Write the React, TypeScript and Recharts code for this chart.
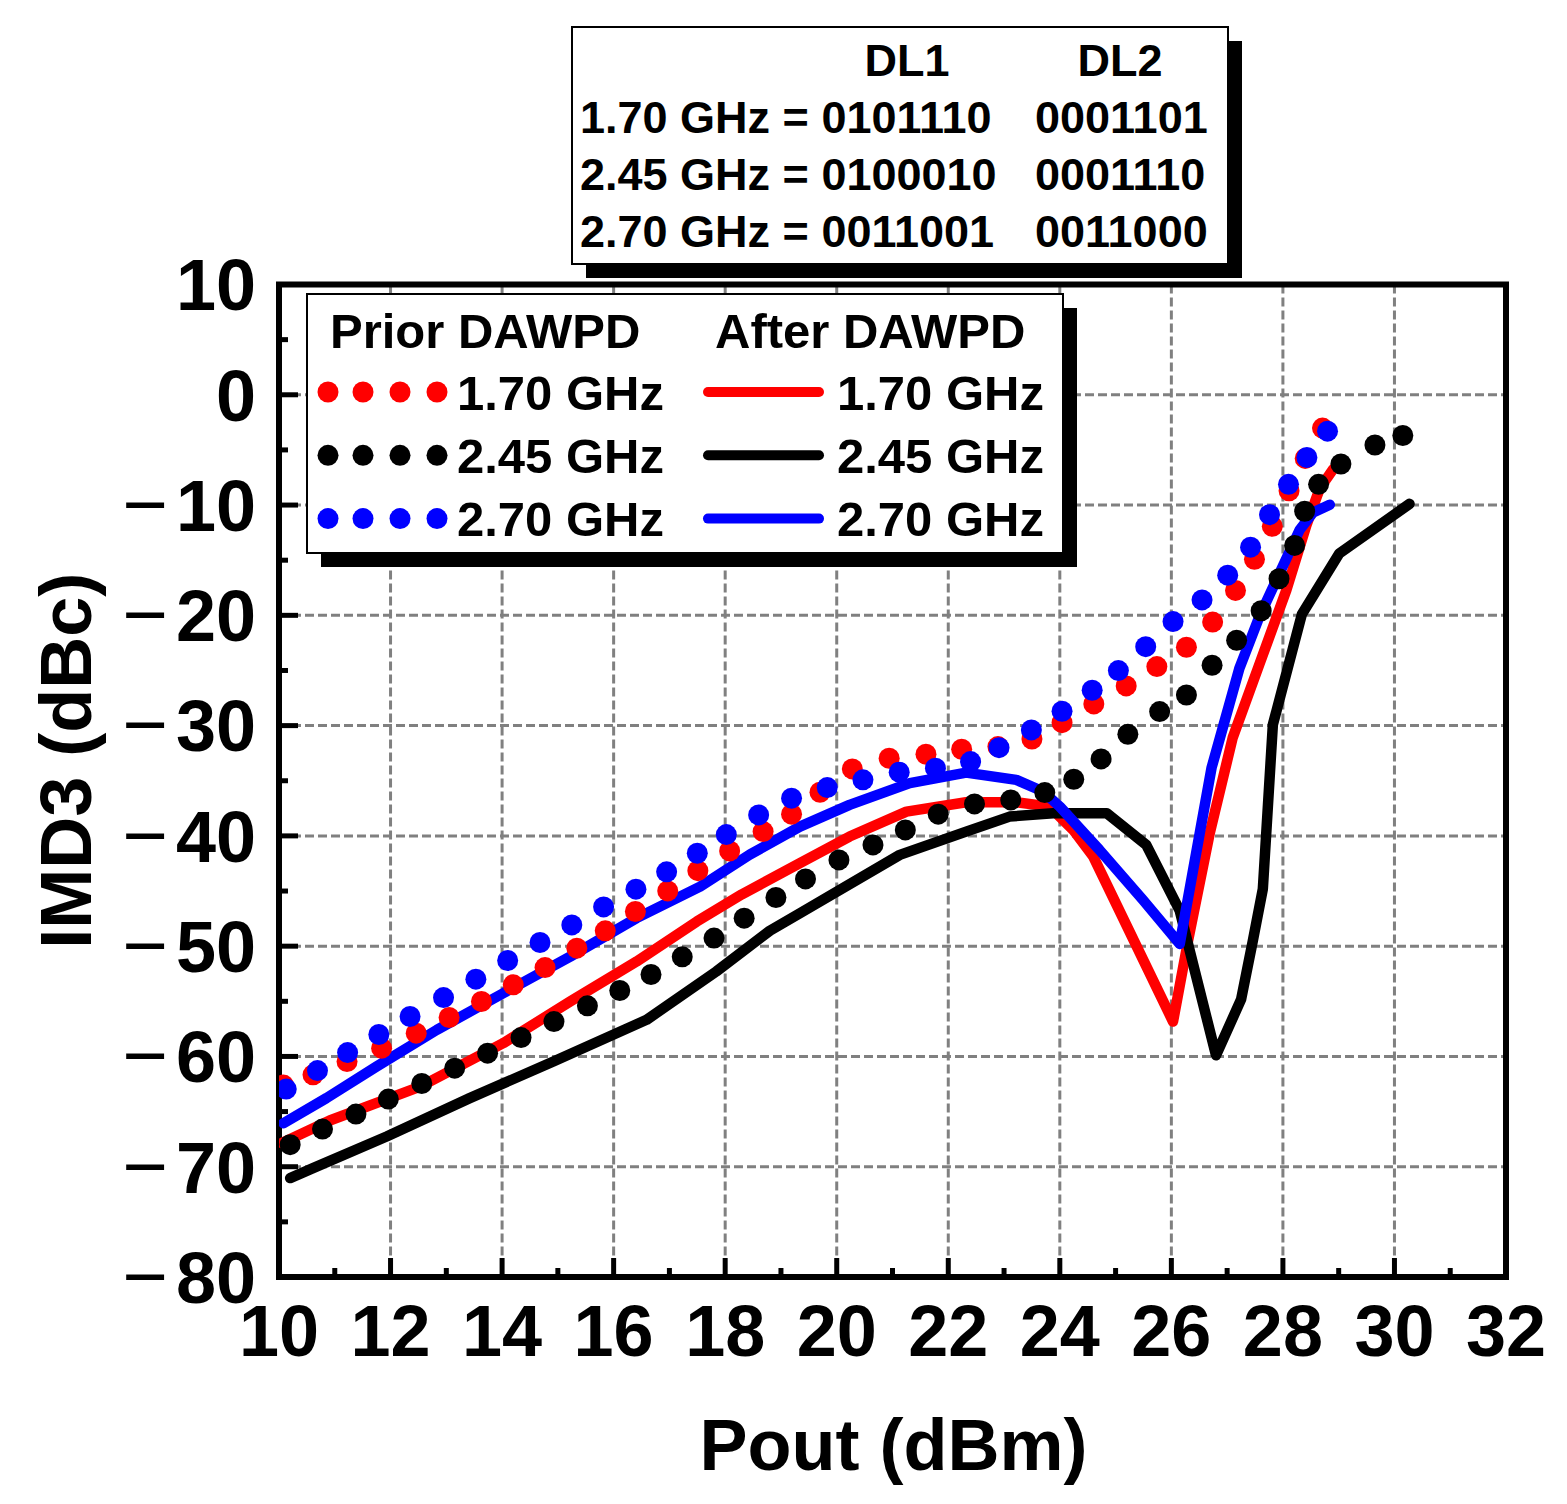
import React from 'react'
import { ComposedChart, Line, Scatter, XAxis, YAxis, CartesianGrid, ReferenceArea, Legend } from 'recharts'

const FONT = '"Liberation Sans", Arial, sans-serif'

// axis ticks (minor ticks carry no label)
const xTicks = [10, 11, 12, 13, 14, 15, 16, 17, 18, 19, 20, 21, 22, 23, 24, 25, 26, 27, 28, 29, 30, 31, 32]
const yTicks = [-80, -75, -70, -65, -60, -55, -50, -45, -40, -35, -30, -25, -20, -15, -10, -5, 0, 5, 10]
const xGridValues = [12, 14, 16, 18, 20, 22, 24, 26, 28, 30]
const yGridValues = [-70, -60, -50, -40, -30, -20, -10, 0]

// Prior DAWPD (measured points) [Pout dBm, IMD3 dBc]
const prior170: [number, number][] = [
  [10.08, -62.6], [10.61, -61.67], [11.22, -60.46], [11.84, -59.25], [12.46, -57.89], [13.05, -56.47],
  [13.63, -55.02], [14.2, -53.51], [14.77, -51.94], [15.34, -50.18], [15.85, -48.61], [16.39, -46.86],
  [16.97, -44.99], [17.51, -43.15], [18.08, -41.36], [18.68, -39.61], [19.19, -38.03], [19.7, -36.04],
  [20.28, -33.93], [20.94, -32.96], [21.6, -32.59], [22.24, -32.14], [22.89, -31.9], [23.5, -31.21],
  [24.04, -29.73], [24.61, -28.03], [25.19, -26.4], [25.74, -24.65], [26.27, -22.89], [26.74, -20.61],
  [27.15, -17.74], [27.49, -14.91], [27.81, -11.93], [28.11, -8.71], [28.4, -5.77], [28.71, -3.02],
]
const prior245: [number, number][] = [
  [10.2, -68.0], [10.78, -66.59], [11.38, -65.23], [11.96, -63.87], [12.56, -62.45], [13.15, -61.06],
  [13.74, -59.7], [14.34, -58.29], [14.93, -56.84], [15.53, -55.41], [16.11, -54.02], [16.67, -52.57],
  [17.23, -50.97], [17.8, -49.27], [18.34, -47.46], [18.91, -45.59], [19.44, -43.9], [20.04, -42.18],
  [20.65, -40.82], [21.23, -39.46], [21.82, -38.03], [22.47, -37.1], [23.12, -36.74], [23.73, -36.07],
  [24.25, -34.86], [24.74, -33.02], [25.22, -30.78], [25.79, -28.73], [26.27, -27.22], [26.73, -24.53],
  [27.17, -22.26], [27.61, -19.58], [27.93, -16.68], [28.21, -13.66], [28.39, -10.56], [28.64, -8.12],
  [29.04, -6.28], [29.65, -4.55], [30.15, -3.69],
]
const prior270: [number, number][] = [
  [10.13, -62.96], [10.69, -61.28], [11.23, -59.65], [11.79, -58.01], [12.35, -56.38], [12.95, -54.66],
  [13.53, -52.99], [14.1, -51.3], [14.68, -49.67], [15.25, -48.07], [15.82, -46.44], [16.4, -44.83],
  [16.95, -43.26], [17.5, -41.57], [18.02, -39.88], [18.6, -38.1], [19.19, -36.58], [19.83, -35.62],
  [20.47, -34.92], [21.12, -34.22], [21.77, -33.86], [22.4, -33.26], [22.91, -32.0], [23.49, -30.39],
  [24.04, -28.7], [24.58, -26.79], [25.05, -25.01], [25.54, -22.84], [26.03, -20.57], [26.55, -18.6],
  [27.01, -16.36], [27.42, -13.82], [27.76, -10.87], [28.1, -8.12], [28.43, -5.69], [28.8, -3.3],
]

// After DAWPD (solid curves)
const after170: [number, number][] = [
  [10.05, -67.86], [10.91, -65.81], [12.53, -62.73], [14.02, -58.8], [15.22, -55.02], [16.41, -51.4],
  [17.49, -47.77], [18.3, -45.3], [19.34, -42.47], [20.23, -40.06], [21.25, -37.8], [22.32, -36.95],
  [23.22, -36.95], [23.82, -37.35], [24.24, -39.46], [24.6, -41.88], [26.03, -56.84], [26.3, -49.5],
  [26.69, -39.72], [27.1, -31.09], [27.58, -24.42], [28.06, -17.74], [28.42, -11.85], [28.66, -8.51],
  [28.9, -6.75],
]
const after245: [number, number][] = [
  [10.2, -71.03], [10.61, -70.13], [11.93, -67.26], [13.42, -63.78], [14.92, -60.46], [16.59, -56.68],
  [17.84, -52.3], [18.8, -48.6], [19.34, -47.01], [21.13, -41.72], [22.32, -39.61], [23.1, -38.25],
  [23.88, -37.94], [24.84, -37.94], [25.55, -40.82], [26.15, -46.78], [26.8, -59.9], [27.25, -54.83],
  [27.46, -49.53], [27.64, -44.82], [27.82, -29.91], [28.34, -19.9], [29.01, -14.4], [30.27, -9.89],
]
const after270: [number, number][] = [
  [10.08, -66.05], [10.85, -63.78], [11.75, -60.91], [12.83, -57.59], [14.02, -54.27], [15.22, -50.95],
  [16.41, -47.46], [17.55, -44.6], [18.44, -41.7], [19.34, -39.16], [20.23, -37.19], [21.31, -35.22],
  [22.32, -34.26], [23.22, -34.92], [23.7, -35.98], [24.0, -37.35], [24.71, -41.27], [25.49, -45.8],
  [26.15, -49.8], [26.51, -39.72], [26.72, -33.84], [27.22, -24.8], [27.58, -20.1], [27.94, -16.18],
  [28.3, -12.25], [28.54, -10.68], [28.84, -9.97],
]

const freqNames = ['1.70 GHz', '2.45 GHz', '2.70 GHz']
const freqColors = ['#ff0000', '#000000', '#0000ff']
const priorData = [prior170, prior245, prior270]
const afterData = [after170, after245, after270]

// switch states shown in the top box
const dl1Codes = ['0101110', '0100010', '0011001']
const dl2Codes = ['0001101', '0001110', '0011000']

const toRows = (pts: [number, number][]) => pts.map(([x, y]) => ({ x, y }))

const XTick = (props: any) => {
  const { x, y, payload } = props
  const v = payload.value
  const major = v % 2 === 0
  return (
    <g>
      <line x1={x} x2={x} y1={y} y2={y - (major ? 19 : 9)} stroke="#000" strokeWidth={5} />
      {major && (
        <text x={x} y={y + 79} textAnchor="middle" fontSize={72} fontWeight="bold" fontFamily={FONT} fill="#000">
          {v}
        </text>
      )}
    </g>
  )
}

const YTick = (props: any) => {
  const { x, y, payload } = props
  const v = payload.value
  const major = v % 10 === 0
  return (
    <g>
      <line x1={x} x2={x + (major ? 19 : 9)} y1={y} y2={y} stroke="#000" strokeWidth={5} />
      {major && (
        <text x={x - 23} y={y} dy={25.8} textAnchor="end" fontSize={72} fontWeight="bold" fontFamily={FONT} fill="#000">
          {v < 0 && <tspan fontWeight="normal" fontSize={78}>−</tspan>}
          {v < 0 ? <tspan dx={8}>{Math.abs(v)}</tspan> : v}
        </text>
      )}
    </g>
  )
}

const XLabel = (props: any) => {
  const vb = props.viewBox || { x: 279, y: 1277, width: 1227 }
  return (
    <text x={vb.x + vb.width / 2 + 1} y={vb.y + 193} textAnchor="middle" fontSize={72} fontWeight="bold" fontFamily={FONT} fill="#000">
      Pout (dBm)
    </text>
  )
}

const YLabel = (props: any) => {
  const vb = props.viewBox || { x: 0, y: 284.5, height: 992.5 }
  const cx = vb.x + 91
  const cy = vb.y + vb.height / 2 - 20
  return (
    <text x={cx} y={cy} transform={`rotate(-90 ${cx} ${cy})`} textAnchor="middle" fontSize={72} fontWeight="bold" fontFamily={FONT} fill="#000">
      IMD3 (dBc)
    </text>
  )
}

const renderLegend = () => {
  const dotXs = [328, 363, 400, 437]
  return (
    <svg width={1567} height={600} style={{ display: 'block' }}>
      <rect x={321} y={308} width={756} height={259} fill="#000" />
      <rect x={307} y={294} width={756} height={259} fill="#fff" stroke="#000" strokeWidth={2} />
      <g fontFamily={FONT} fontWeight="bold" fontSize={49} fill="#000">
        <text x={330} y={348}>Prior DAWPD</text>
        <text x={715} y={348}>After DAWPD</text>
        {freqNames.map((name, i) => {
          const cy = 392 + i * 63.3
          return (
            <g key={name}>
              {dotXs.map((dx) => (
                <circle key={dx} cx={dx} cy={cy} r={10.5} fill={freqColors[i]} />
              ))}
              <text x={457} y={cy + 17.5}>{name}</text>
              <line x1={708} x2={819} y1={cy} y2={cy} stroke={freqColors[i]} strokeWidth={10} strokeLinecap="round" />
              <text x={837} y={cy + 17.5}>{name}</text>
            </g>
          )
        })}
      </g>
    </svg>
  )
}

export default function App() {
  return (
    <div style={{ position: 'absolute', left: 0, top: 0, width: 1567, height: 1504, background: '#fff', fontFamily: FONT }}>
      <ComposedChart width={1567} height={1504} margin={{ top: 284.5, right: 61, bottom: 0, left: 0 }}>
        <CartesianGrid
          stroke="#808080"
          strokeWidth={3}
          strokeDasharray="9 4"
          verticalValues={xGridValues}
          horizontalValues={yGridValues}
        />
        <XAxis
          type="number"
          dataKey="x"
          domain={[10, 32]}
          ticks={xTicks}
          interval={0}
          allowDataOverflow
          tickSize={0}
          tickMargin={0}
          tickLine={false}
          axisLine={false}
          tick={(p: any) => <XTick {...p} />}
          height={227}
          label={(p: any) => <XLabel {...p} />}
        />
        <YAxis
          type="number"
          dataKey="y"
          domain={[-80, 10]}
          ticks={yTicks}
          interval={0}
          allowDataOverflow
          tickSize={0}
          tickMargin={0}
          tickLine={false}
          axisLine={false}
          tick={(p: any) => <YTick {...p} />}
          width={279}
          label={(p: any) => <YLabel {...p} />}
        />
        {afterData.map((pts, i) => (
          <Line
            key={'after' + i}
            name={'After ' + freqNames[i]}
            data={toRows(pts)}
            dataKey="y"
            type="linear"
            stroke={freqColors[i]}
            strokeWidth={10.5}
            strokeLinejoin="round"
            strokeLinecap="round"
            dot={false}
            activeDot={false}
            isAnimationActive={false}
          />
        ))}
        {priorData.map((pts, i) => (
          <Scatter
            key={'prior' + i}
            name={'Prior ' + freqNames[i]}
            data={toRows(pts)}
            dataKey="y"
            fill={freqColors[i]}
            isAnimationActive={false}
            shape={(p: any) => <circle cx={p.cx} cy={p.cy} r={10.5} fill={freqColors[i]} />}
          />
        ))}
        <ReferenceArea x1={10} x2={32} y1={-80} y2={10} fill="none" stroke="#000" strokeWidth={6} ifOverflow="visible" />
        <Legend
          layout="horizontal"
          verticalAlign="middle"
          align="center"
          wrapperStyle={{ left: 0, top: 0, width: 1567, height: 600, pointerEvents: 'none' }}
          content={renderLegend}
        />
      </ComposedChart>
      <svg width={1567} height={300} style={{ position: 'absolute', left: 0, top: 0, pointerEvents: 'none' }}>
        <rect x={586} y={41} width={656} height={237} fill="#000" />
        <rect x={572} y={27} width={656} height={237} fill="#fff" stroke="#000" strokeWidth={2} />
        <g fontFamily={FONT} fontWeight="bold" fontSize={45} fill="#000">
          <text x={907} y={76} textAnchor="middle">DL1</text>
          <text x={1120} y={76} textAnchor="middle">DL2</text>
          {freqNames.map((name, i) => (
            <g key={name}>
              <text x={580} y={133 + i * 57}>{name} = {dl1Codes[i]}</text>
              <text x={1035} y={133 + i * 57}>{dl2Codes[i]}</text>
            </g>
          ))}
        </g>
      </svg>
    </div>
  )
}
